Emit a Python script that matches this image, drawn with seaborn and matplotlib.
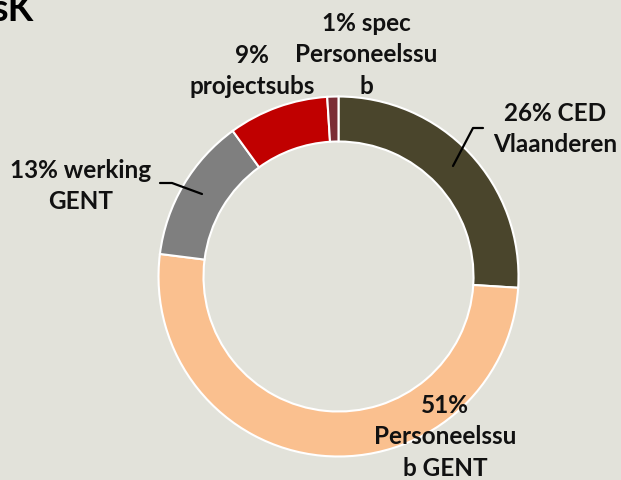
import numpy as np
import matplotlib
matplotlib.use("Agg")
import matplotlib.pyplot as plt
import seaborn as sns

# data (percentages, clockwise from 12 o'clock)
labels = ["26% CED\nVlaanderen", "51%\nPersoneelssu\nb GENT", "13% werking\nGENT",
          "9%\nprojectsubs", "1% spec\nPersoneelssu\nb"]
values = [26, 51, 13, 9, 1]
colors = ["#4a452c", "#fac08f", "#7f7f7f", "#c00000", "#7b2d35"]

# label centres in pixels (x, y from top)
label_pos = [(555, 129), (445, 437), (81, 186), (252, 71), (366, 55)]

bg = "#e2e2da"
sns.set_theme(style="white")
plt.rcParams['font.family'] = ['Lato', 'DejaVu Sans']

W, H = 621, 480
fig = plt.figure(figsize=(W / 100, H / 100), dpi=100, facecolor=bg)
ax = fig.add_axes([0, 0, 1, 1])
ax.set_facecolor(bg)

cx, cy, R = 338.5, H - 276.5, 180
ax.pie(values, colors=colors, startangle=90, counterclock=False,
       center=(cx, cy), radius=R, frame=True,
       wedgeprops=dict(width=45, edgecolor="white", linewidth=1.5))
ax.set_xlim(0, W)
ax.set_ylim(0, H)
ax.set_aspect("equal")
ax.axis("off")

for lab, (x, y) in zip(labels, label_pos):
    ax.text(x, H - y, lab, ha="center", va="center", fontsize=17.5,
            fontweight="bold", color="#111111", linespacing=1.45)

# leader lines
ax.plot([483, 473, 453], [H - 128, H - 128, H - 166], color="black", lw=1.6)
ax.plot([160, 172, 202], [H - 183, H - 183, H - 194], color="black", lw=1.6)

# title fragment cut off at the left edge
ax.text(33, H - 10, "sK", ha="right", va="center", fontsize=27,
        fontweight="bold", color="black")

fig.savefig("out.png", dpi=100, facecolor=bg)
